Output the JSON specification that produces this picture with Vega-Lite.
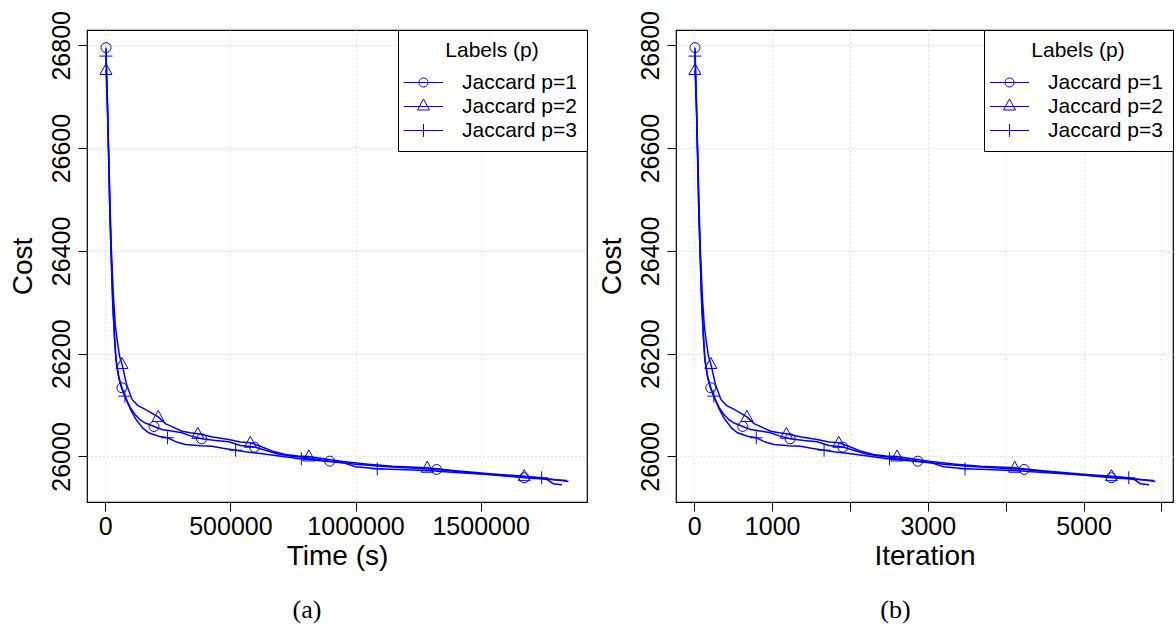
{
  "$schema": "https://vega.github.io/schema/vega-lite/v6.json",
  "padding": {"left": 8, "top": 9, "right": 3, "bottom": 5},
  "bounds": "flush",
  "spacing": 89,
  "background": "white",
  "config": {
    "font": "Liberation Sans",
    "view": {"stroke": "black", "strokeWidth": 1.2},
    "axis": {
      "labelFont": "Liberation Sans", "labelFontSize": 25, "labelColor": "black",
      "titleFont": "Liberation Sans", "titleFontSize": 28, "titleFontWeight": "normal", "titleColor": "black",
      "tickColor": "black", "tickSize": 9, "tickWidth": 1, "domain": false,
      "gridColor": "#c8c8c8", "gridDash": [1, 3], "gridWidth": 1,
      "labelFlush": false, "labelOverlap": false
    },
    "legend": {
      "orient": "top-right", "offset": 0, "padding": 10,
      "strokeColor": "black", "fillColor": "white",
      "titleFont": "Liberation Sans", "titleFontSize": 21, "titleFontWeight": "normal", "titleColor": "black",
      "titleAnchor": "middle", "titlePadding": 8,
      "labelFont": "Liberation Sans", "labelFontSize": 21, "labelColor": "black", "labelOffset": 25, "labelLimit": 300,
      "symbolSize": 676, "symbolStrokeColor": "#0000ff", "symbolStrokeWidth": 1, "symbolFillColor": "transparent",
      "symbolOpacity": 1, "symbolOffset": 2, "rowPadding": -3
    },
    "title": {"font": "Liberation Serif", "fontSize": 26, "fontWeight": "normal", "color": "black"}
  },
  "resolve": {"scale": {"shape": "independent"}, "legend": {"shape": "independent"}},
  "datasets": {
    "curves": [
      {"series": "Jaccard p=1", "time": 2800, "iter": 9, "cost": 26795.5},
      {"series": "Jaccard p=1", "time": 8000, "iter": 26, "cost": 26700},
      {"series": "Jaccard p=1", "time": 12500, "iter": 40, "cost": 26600},
      {"series": "Jaccard p=1", "time": 18000, "iter": 58, "cost": 26480},
      {"series": "Jaccard p=1", "time": 23000, "iter": 74, "cost": 26400},
      {"series": "Jaccard p=1", "time": 30000, "iter": 96, "cost": 26300},
      {"series": "Jaccard p=1", "time": 37000, "iter": 118, "cost": 26228},
      {"series": "Jaccard p=1", "time": 42000, "iter": 134, "cost": 26190},
      {"series": "Jaccard p=1", "time": 52000, "iter": 166, "cost": 26158},
      {"series": "Jaccard p=1", "time": 66400, "iter": 212, "cost": 26133.7},
      {"series": "Jaccard p=1", "time": 80000, "iter": 256, "cost": 26115},
      {"series": "Jaccard p=1", "time": 100000, "iter": 320, "cost": 26095},
      {"series": "Jaccard p=1", "time": 120000, "iter": 384, "cost": 26081},
      {"series": "Jaccard p=1", "time": 140000, "iter": 448, "cost": 26071},
      {"series": "Jaccard p=1", "time": 160000, "iter": 512, "cost": 26065},
      {"series": "Jaccard p=1", "time": 194600, "iter": 623, "cost": 26058.4},
      {"series": "Jaccard p=1", "time": 226700, "iter": 725, "cost": 26052.6},
      {"series": "Jaccard p=1", "time": 270000, "iter": 864, "cost": 26049},
      {"series": "Jaccard p=1", "time": 306700, "iter": 981, "cost": 26046},
      {"series": "Jaccard p=1", "time": 340000, "iter": 1088, "cost": 26040},
      {"series": "Jaccard p=1", "time": 384800, "iter": 1231, "cost": 26034.4},
      {"series": "Jaccard p=1", "time": 440000, "iter": 1408, "cost": 26031},
      {"series": "Jaccard p=1", "time": 493300, "iter": 1579, "cost": 26028.6},
      {"series": "Jaccard p=1", "time": 540000, "iter": 1728, "cost": 26021.4},
      {"series": "Jaccard p=1", "time": 596400, "iter": 1908, "cost": 26018.2},
      {"series": "Jaccard p=1", "time": 640000, "iter": 2048, "cost": 26012},
      {"series": "Jaccard p=1", "time": 690000, "iter": 2208, "cost": 26005},
      {"series": "Jaccard p=1", "time": 740000, "iter": 2368, "cost": 26001},
      {"series": "Jaccard p=1", "time": 800000, "iter": 2560, "cost": 25998},
      {"series": "Jaccard p=1", "time": 896800, "iter": 2870, "cost": 25990.9},
      {"series": "Jaccard p=1", "time": 1000000, "iter": 3200, "cost": 25985},
      {"series": "Jaccard p=1", "time": 1100000, "iter": 3520, "cost": 25981},
      {"series": "Jaccard p=1", "time": 1200000, "iter": 3840, "cost": 25978},
      {"series": "Jaccard p=1", "time": 1324000, "iter": 4237, "cost": 25974.7},
      {"series": "Jaccard p=1", "time": 1450000, "iter": 4640, "cost": 25969},
      {"series": "Jaccard p=1", "time": 1560000, "iter": 4992, "cost": 25964},
      {"series": "Jaccard p=1", "time": 1674400, "iter": 5358, "cost": 25958.5},
      {"series": "Jaccard p=1", "time": 1720000, "iter": 5504, "cost": 25957},
      {"series": "Jaccard p=1", "time": 1780000, "iter": 5696, "cost": 25955},
      {"series": "Jaccard p=1", "time": 1845000, "iter": 5904, "cost": 25953},

      {"series": "Jaccard p=2", "time": 2800, "iter": 9, "cost": 26752},
      {"series": "Jaccard p=2", "time": 8000, "iter": 26, "cost": 26690},
      {"series": "Jaccard p=2", "time": 13000, "iter": 42, "cost": 26600},
      {"series": "Jaccard p=2", "time": 19000, "iter": 61, "cost": 26490},
      {"series": "Jaccard p=2", "time": 24000, "iter": 77, "cost": 26405},
      {"series": "Jaccard p=2", "time": 32000, "iter": 102, "cost": 26315},
      {"series": "Jaccard p=2", "time": 40000, "iter": 128, "cost": 26255},
      {"series": "Jaccard p=2", "time": 47000, "iter": 150, "cost": 26228},
      {"series": "Jaccard p=2", "time": 57000, "iter": 182, "cost": 26195},
      {"series": "Jaccard p=2", "time": 66400, "iter": 212, "cost": 26180},
      {"series": "Jaccard p=2", "time": 85000, "iter": 272, "cost": 26140},
      {"series": "Jaccard p=2", "time": 106700, "iter": 341, "cost": 26111},
      {"series": "Jaccard p=2", "time": 130000, "iter": 416, "cost": 26099},
      {"series": "Jaccard p=2", "time": 160000, "iter": 512, "cost": 26091.5},
      {"series": "Jaccard p=2", "time": 211200, "iter": 676, "cost": 26077},
      {"series": "Jaccard p=2", "time": 240000, "iter": 768, "cost": 26064},
      {"series": "Jaccard p=2", "time": 266700, "iter": 853, "cost": 26058},
      {"series": "Jaccard p=2", "time": 306700, "iter": 981, "cost": 26049},
      {"series": "Jaccard p=2", "time": 340000, "iter": 1088, "cost": 26046},
      {"series": "Jaccard p=2", "time": 369700, "iter": 1183, "cost": 26044},
      {"series": "Jaccard p=2", "time": 430000, "iter": 1376, "cost": 26038},
      {"series": "Jaccard p=2", "time": 493300, "iter": 1579, "cost": 26033},
      {"series": "Jaccard p=2", "time": 540000, "iter": 1728, "cost": 26028},
      {"series": "Jaccard p=2", "time": 579600, "iter": 1855, "cost": 26026.6},
      {"series": "Jaccard p=2", "time": 620000, "iter": 1984, "cost": 26020},
      {"series": "Jaccard p=2", "time": 670000, "iter": 2144, "cost": 26010},
      {"series": "Jaccard p=2", "time": 720000, "iter": 2304, "cost": 26004},
      {"series": "Jaccard p=2", "time": 770000, "iter": 2464, "cost": 26001},
      {"series": "Jaccard p=2", "time": 813600, "iter": 2604, "cost": 26000},
      {"series": "Jaccard p=2", "time": 880000, "iter": 2816, "cost": 25995},
      {"series": "Jaccard p=2", "time": 950000, "iter": 3040, "cost": 25990},
      {"series": "Jaccard p=2", "time": 1050000, "iter": 3360, "cost": 25985},
      {"series": "Jaccard p=2", "time": 1150000, "iter": 3680, "cost": 25981},
      {"series": "Jaccard p=2", "time": 1286400, "iter": 4116, "cost": 25978},
      {"series": "Jaccard p=2", "time": 1400000, "iter": 4480, "cost": 25972},
      {"series": "Jaccard p=2", "time": 1550000, "iter": 4960, "cost": 25966},
      {"series": "Jaccard p=2", "time": 1674400, "iter": 5358, "cost": 25961.7},
      {"series": "Jaccard p=2", "time": 1740000, "iter": 5568, "cost": 25958},
      {"series": "Jaccard p=2", "time": 1800000, "iter": 5760, "cost": 25954.5},
      {"series": "Jaccard p=2", "time": 1851000, "iter": 5923, "cost": 25951.5},

      {"series": "Jaccard p=3", "time": 2800, "iter": 9, "cost": 26779},
      {"series": "Jaccard p=3", "time": 8000, "iter": 26, "cost": 26690},
      {"series": "Jaccard p=3", "time": 12500, "iter": 40, "cost": 26600},
      {"series": "Jaccard p=3", "time": 18000, "iter": 58, "cost": 26475},
      {"series": "Jaccard p=3", "time": 23000, "iter": 74, "cost": 26395},
      {"series": "Jaccard p=3", "time": 30000, "iter": 96, "cost": 26290},
      {"series": "Jaccard p=3", "time": 38000, "iter": 122, "cost": 26225},
      {"series": "Jaccard p=3", "time": 43000, "iter": 138, "cost": 26188},
      {"series": "Jaccard p=3", "time": 55000, "iter": 176, "cost": 26150},
      {"series": "Jaccard p=3", "time": 65000, "iter": 208, "cost": 26133},
      {"series": "Jaccard p=3", "time": 78400, "iter": 251, "cost": 26117.4},
      {"series": "Jaccard p=3", "time": 100000, "iter": 320, "cost": 26092},
      {"series": "Jaccard p=3", "time": 120000, "iter": 384, "cost": 26074},
      {"series": "Jaccard p=3", "time": 133300, "iter": 427, "cost": 26065.6},
      {"series": "Jaccard p=3", "time": 150000, "iter": 480, "cost": 26055},
      {"series": "Jaccard p=3", "time": 173300, "iter": 555, "cost": 26046},
      {"series": "Jaccard p=3", "time": 213300, "iter": 683, "cost": 26039.5},
      {"series": "Jaccard p=3", "time": 248800, "iter": 796, "cost": 26036.3},
      {"series": "Jaccard p=3", "time": 285000, "iter": 912, "cost": 26028},
      {"series": "Jaccard p=3", "time": 320000, "iter": 1024, "cost": 26023.4},
      {"series": "Jaccard p=3", "time": 380000, "iter": 1216, "cost": 26021},
      {"series": "Jaccard p=3", "time": 426700, "iter": 1365, "cost": 26020},
      {"series": "Jaccard p=3", "time": 470000, "iter": 1504, "cost": 26016},
      {"series": "Jaccard p=3", "time": 520800, "iter": 1667, "cost": 26012.3},
      {"series": "Jaccard p=3", "time": 560000, "iter": 1792, "cost": 26009},
      {"series": "Jaccard p=3", "time": 620000, "iter": 1984, "cost": 26006},
      {"series": "Jaccard p=3", "time": 680000, "iter": 2176, "cost": 26002},
      {"series": "Jaccard p=3", "time": 740000, "iter": 2368, "cost": 25998},
      {"series": "Jaccard p=3", "time": 783600, "iter": 2508, "cost": 25995.5},
      {"series": "Jaccard p=3", "time": 850000, "iter": 2720, "cost": 25992},
      {"series": "Jaccard p=3", "time": 950000, "iter": 3040, "cost": 25988},
      {"series": "Jaccard p=3", "time": 1000000, "iter": 3200, "cost": 25980},
      {"series": "Jaccard p=3", "time": 1086800, "iter": 3478, "cost": 25976},
      {"series": "Jaccard p=3", "time": 1200000, "iter": 3840, "cost": 25974},
      {"series": "Jaccard p=3", "time": 1300000, "iter": 4160, "cost": 25972},
      {"series": "Jaccard p=3", "time": 1400000, "iter": 4480, "cost": 25969},
      {"series": "Jaccard p=3", "time": 1500000, "iter": 4800, "cost": 25966},
      {"series": "Jaccard p=3", "time": 1620000, "iter": 5184, "cost": 25962},
      {"series": "Jaccard p=3", "time": 1700000, "iter": 5440, "cost": 25960},
      {"series": "Jaccard p=3", "time": 1744000, "iter": 5581, "cost": 25958.5},
      {"series": "Jaccard p=3", "time": 1770000, "iter": 5664, "cost": 25954},
      {"series": "Jaccard p=3", "time": 1790000, "iter": 5728, "cost": 25947},
      {"series": "Jaccard p=3", "time": 1825000, "iter": 5840, "cost": 25945}
    ],
    "markers": [
      {"series": "Jaccard p=1", "time": 2800, "iter": 9, "cost": 26795.5},
      {"series": "Jaccard p=1", "time": 66400, "iter": 212, "cost": 26133.7},
      {"series": "Jaccard p=1", "time": 194600, "iter": 623, "cost": 26058.4},
      {"series": "Jaccard p=1", "time": 384800, "iter": 1231, "cost": 26034.4},
      {"series": "Jaccard p=1", "time": 596400, "iter": 1908, "cost": 26018.2},
      {"series": "Jaccard p=1", "time": 896800, "iter": 2870, "cost": 25990.9},
      {"series": "Jaccard p=1", "time": 1324000, "iter": 4237, "cost": 25974.7},
      {"series": "Jaccard p=1", "time": 1674400, "iter": 5358, "cost": 25958.5},
      {"series": "Jaccard p=2", "time": 2800, "iter": 9, "cost": 26752},
      {"series": "Jaccard p=2", "time": 66400, "iter": 212, "cost": 26180},
      {"series": "Jaccard p=2", "time": 211200, "iter": 676, "cost": 26077},
      {"series": "Jaccard p=2", "time": 369700, "iter": 1183, "cost": 26044},
      {"series": "Jaccard p=2", "time": 579600, "iter": 1855, "cost": 26026.6},
      {"series": "Jaccard p=2", "time": 813600, "iter": 2604, "cost": 26000},
      {"series": "Jaccard p=2", "time": 1286400, "iter": 4116, "cost": 25978},
      {"series": "Jaccard p=2", "time": 1674400, "iter": 5358, "cost": 25961.7},
      {"series": "Jaccard p=3", "time": 2800, "iter": 9, "cost": 26779},
      {"series": "Jaccard p=3", "time": 78400, "iter": 251, "cost": 26117.4},
      {"series": "Jaccard p=3", "time": 248800, "iter": 796, "cost": 26036.3},
      {"series": "Jaccard p=3", "time": 520800, "iter": 1667, "cost": 26012.3},
      {"series": "Jaccard p=3", "time": 783600, "iter": 2508, "cost": 25995.5},
      {"series": "Jaccard p=3", "time": 1086800, "iter": 3478, "cost": 25976},
      {"series": "Jaccard p=3", "time": 1744000, "iter": 5581, "cost": 25958.5}
    ]
  },
  "hconcat": [
    {
      "width": 500, "height": 472,
      "title": {"text": "(a)", "orient": "bottom", "offset": 27, "dx": -30},
      "resolve": {"scale": {"shape": "independent"}, "legend": {"shape": "independent"}},
      "layer": [
        {
          "data": {"name": "curves"},
          "mark": {"type": "line", "color": "#0000ff", "strokeWidth": 1.5, "clip": true},
          "encoding": {
            "x": {"field": "time", "type": "quantitative", "scale": {"domain": [-73200, 1925200], "nice": false, "zero": false},
                  "axis": {"title": "Time (s)", "values": [0, 500000, 1000000, 1500000], "format": "d", "labelPadding": 3, "titlePadding": 3}},
            "y": {"field": "cost", "type": "quantitative", "scale": {"domain": [25911.4, 26829.8], "nice": false, "zero": false},
                  "axis": {"title": "Cost", "values": [26000, 26200, 26400, 26600, 26800], "format": "d", "labelAngle": -90, "labelAlign": "center", "labelBaseline": "alphabetic", "labelPadding": 9, "titlePadding": 12}},
            "detail": {"field": "series"}
          }
        },
        {
          "data": {"name": "markers"},
          "mark": {"type": "point", "filled": false, "color": "#0000ff", "strokeWidth": 1, "size": 100, "opacity": 1},
          "encoding": {
            "x": {"field": "time", "type": "quantitative"},
            "y": {"field": "cost", "type": "quantitative"},
            "shape": {"field": "series", "type": "nominal",
              "scale": {"domain": ["Jaccard p=1", "Jaccard p=2", "Jaccard p=3"], "range": ["circle", "M0,-1.3L1.2,0.9L-1.2,0.9Z", "M-1.3,0H1.3M0,-1.3V1.3"]},
              "legend": null}
          }
        },
        {
          "data": {"name": "markers"},
          "transform": [{"filter": "datum.cost < 0"}],
          "mark": {"type": "point", "filled": false, "color": "#0000ff", "strokeWidth": 1, "opacity": 1},
          "encoding": {
            "x": {"field": "time", "type": "quantitative"},
            "y": {"field": "cost", "type": "quantitative"},
            "shape": {"field": "series", "type": "nominal",
              "scale": {"domain": ["Jaccard p=1", "Jaccard p=2", "Jaccard p=3"],
                        "range": ["M-1.5,0H1.5M0.35,0A0.35,0.35,0,1,1,-0.35,0A0.35,0.35,0,1,1,0.35,0", "M-1.5,0H1.5M0,-0.58L0.46,0.27L-0.46,0.27Z", "M-1.5,0H1.5M0,-0.5V0.5"]},
              "legend": {"title": "Labels (p)"}}
          }
        }
      ]
    },
    {
      "width": 497, "height": 472,
      "title": {"text": "(b)", "orient": "bottom", "offset": 27, "dx": -29},
      "resolve": {"scale": {"shape": "independent"}, "legend": {"shape": "independent"}},
      "layer": [
        {
          "data": {"name": "curves"},
          "mark": {"type": "line", "color": "#0000ff", "strokeWidth": 1.5, "clip": true},
          "encoding": {
            "x": {"field": "iter", "type": "quantitative", "scale": {"domain": [-235, 6149], "nice": false, "zero": false},
                  "axis": {"title": "Iteration", "values": [0, 1000, 2000, 3000, 4000, 5000, 6000], "format": "d", "labelPadding": 3, "titlePadding": 3,
                           "labelExpr": "(datum.value == 2000 || datum.value == 4000 || datum.value == 6000) ? '' : datum.label"}},
            "y": {"field": "cost", "type": "quantitative", "scale": {"domain": [25911.4, 26829.8], "nice": false, "zero": false},
                  "axis": {"title": "Cost", "values": [26000, 26200, 26400, 26600, 26800], "format": "d", "labelAngle": -90, "labelAlign": "center", "labelBaseline": "alphabetic", "labelPadding": 9, "titlePadding": 12}},
            "detail": {"field": "series"}
          }
        },
        {
          "data": {"name": "markers"},
          "mark": {"type": "point", "filled": false, "color": "#0000ff", "strokeWidth": 1, "size": 100, "opacity": 1},
          "encoding": {
            "x": {"field": "iter", "type": "quantitative"},
            "y": {"field": "cost", "type": "quantitative"},
            "shape": {"field": "series", "type": "nominal",
              "scale": {"domain": ["Jaccard p=1", "Jaccard p=2", "Jaccard p=3"], "range": ["circle", "M0,-1.3L1.2,0.9L-1.2,0.9Z", "M-1.3,0H1.3M0,-1.3V1.3"]},
              "legend": null}
          }
        },
        {
          "data": {"name": "markers"},
          "transform": [{"filter": "datum.cost < 0"}],
          "mark": {"type": "point", "filled": false, "color": "#0000ff", "strokeWidth": 1, "opacity": 1},
          "encoding": {
            "x": {"field": "iter", "type": "quantitative"},
            "y": {"field": "cost", "type": "quantitative"},
            "shape": {"field": "series", "type": "nominal",
              "scale": {"domain": ["Jaccard p=1", "Jaccard p=2", "Jaccard p=3"],
                        "range": ["M-1.5,0H1.5M0.35,0A0.35,0.35,0,1,1,-0.35,0A0.35,0.35,0,1,1,0.35,0", "M-1.5,0H1.5M0,-0.58L0.46,0.27L-0.46,0.27Z", "M-1.5,0H1.5M0,-0.5V0.5"]},
              "legend": {"title": "Labels (p)"}}
          }
        }
      ]
    }
  ]
}
